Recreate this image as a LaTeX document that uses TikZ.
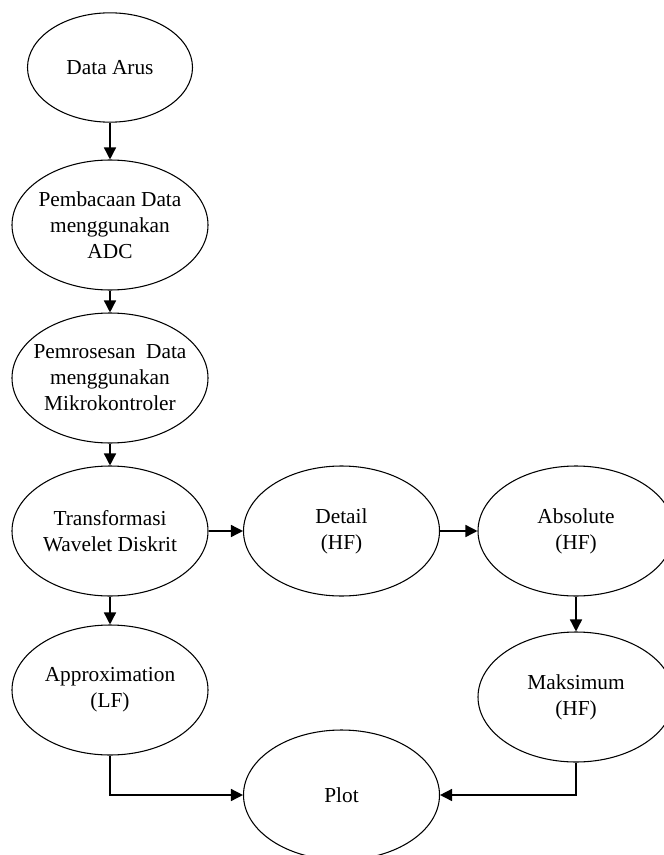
\documentclass[tikz,border=0pt]{standalone}
\usepackage{fontspec}
\setmainfont{Liberation Serif}
\usetikzlibrary{shapes.geometric,arrows.meta}

\tikzset{
  oval/.style={draw, line width=0.8pt, ellipse, inner ysep=0pt, inner xsep=-14pt,
    minimum width=147pt, minimum height=97.5pt, align=center,
    font=\fontsize{16}{19.5}\selectfont},
  smalloval/.style={oval, minimum width=123.75pt, minimum height=82pt},
  flow/.style={draw, line width=1.1pt, -{Triangle[length=9pt,width=9pt]}}
}

\begin{document}
\begin{tikzpicture}[x=0.75pt,y=-0.75pt]
\useasboundingbox (0,0) rectangle (663,855);

% left column
\node[smalloval] (arus)   at (110,67.5) {Data Arus};
\node[oval] (baca)   at (110,225) {Pembacaan Data\\menggunakan\\ADC};
\node[oval] (proses) at (110,378) {Pemrosesan\enspace Data\\menggunakan\\Mikrokontroler};
\node[oval] (dwt)    at (110,531) {Transformasi\\Wavelet Diskrit};
\node[oval] (approx) at (110,690) {Approximation\\(LF)};

% middle and right
\node[oval] (detail) at (341.5,531) {Detail\\(HF)};
\node[oval] (abs)    at (576,531) {Absolute\\(HF)};
\node[oval] (maks)   at (576,697) {Maksimum\\(HF)};
\node[oval] (plot)   at (341.5,795) {Plot};

% connectors
\draw[flow] (arus.south) -- (baca.north);
\draw[flow] (baca.south) -- (proses.north);
\draw[flow] (proses.south) -- (dwt.north);
\draw[flow] (dwt.south) -- (approx.north);
\draw[flow] (dwt.east) -- (detail.west);
\draw[flow] (detail.east) -- (abs.west);
\draw[flow] (abs.south) -- (maks.north);
\draw[flow] (approx.south) |- (plot.west);
\draw[flow] (maks.south) |- (plot.east);
\end{tikzpicture}
\end{document}
